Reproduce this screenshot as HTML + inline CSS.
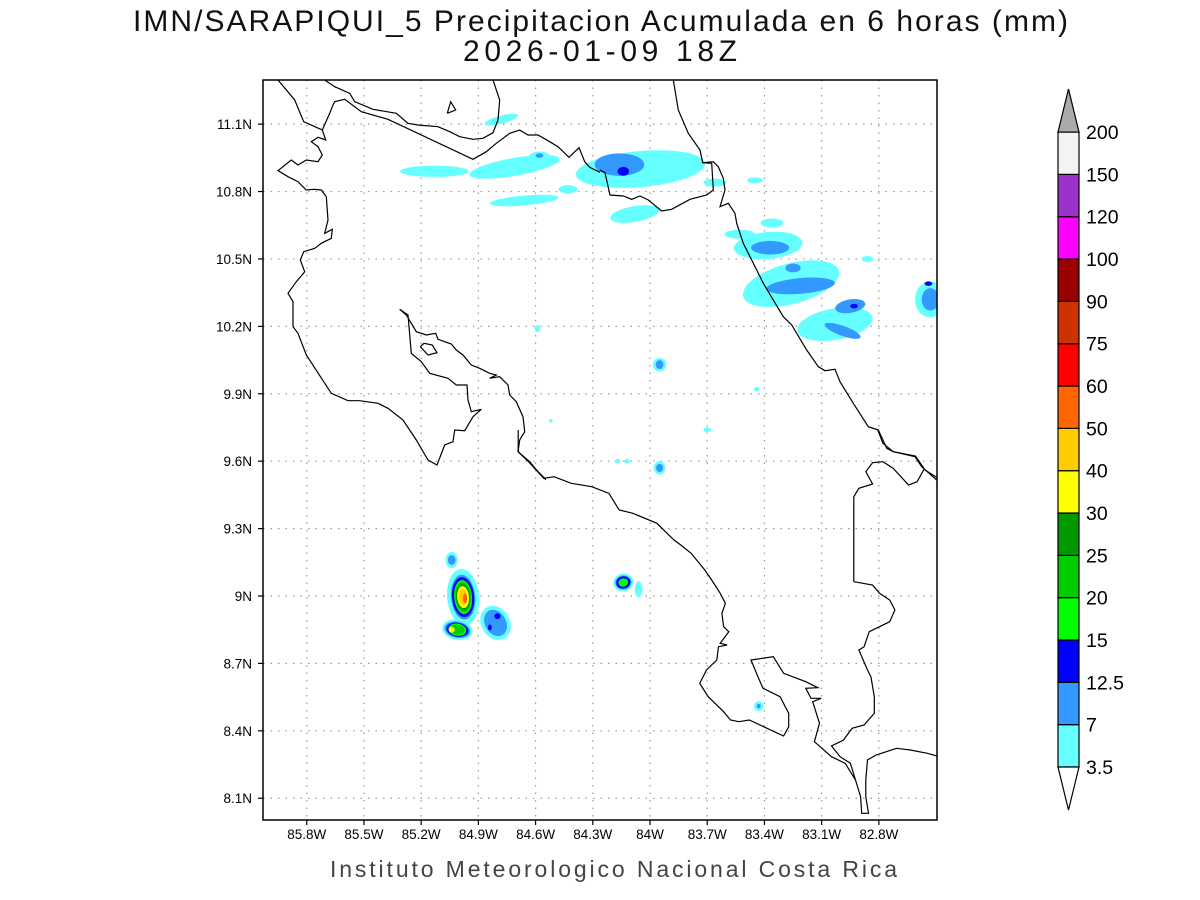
<!DOCTYPE html>
<html><head><meta charset="utf-8"><style>
html,body{margin:0;padding:0;background:#fff;}
svg{display:block;font-family:"Liberation Sans",sans-serif;}
</style></head><body>
<svg id="chart" width="1200" height="900" viewBox="0 0 1200 900" xmlns="http://www.w3.org/2000/svg">
<defs><clipPath id="mapclip"><rect x="263" y="80" width="674" height="740"/></clipPath></defs>
<rect width="1200" height="900" fill="#fff"/>
<text x="133" y="31" font-size="30" fill="#111" textLength="935" lengthAdjust="spacing">IMN/SARAPIQUI_5 Precipitacion Acumulada en 6 horas (mm)</text>
<text x="463" y="61" font-size="30" fill="#111" textLength="274" lengthAdjust="spacing">2026-01-09 18Z</text>
<g id="grid"></g>
<g id="blobs" clip-path="url(#mapclip)"></g>
<g id="coast" fill="none" stroke="#000" stroke-width="1.2" clip-path="url(#mapclip)"></g>
<rect x="263" y="80" width="674" height="740" fill="none" stroke="#000" stroke-width="1.5"/>
<g id="axes"></g>
<g id="cbar"></g>
<text x="330" y="877" font-size="23" fill="#444" textLength="567" lengthAdjust="spacing">Instituto Meteorologico Nacional Costa Rica</text>
</svg>
<script>
const lonTicks=[-85.8,-85.5,-85.2,-84.9,-84.6,-84.3,-84.0,-83.7,-83.4,-83.1,-82.8];
const lonLabels=["85.8W","85.5W","85.2W","84.9W","84.6W","84.3W","84W","83.7W","83.4W","83.1W","82.8W"];
const latTicks=[11.1,10.8,10.5,10.2,9.9,9.6,9.3,9.0,8.7,8.4,8.1];
const latLabels=["11.1N","10.8N","10.5N","10.2N","9.9N","9.6N","9.3N","9N","8.7N","8.4N","8.1N"];
const levelLabels=["3.5","7","12.5","15","20","25","30","40","50","60","75","90","100","120","150","200"];
const levelColors=["#66ffff","#3399ff","#0000ff","#00ff00","#00cc00","#009900","#ffff00","#ffcc00","#ff6600","#ff0000","#cc3300","#990000","#ff00ff","#9933cc","#f3f3f3"];
const blobLon=[-85.13,-84.71,-84.05,-84.16,-84.14,-84.66,-84.43,-84.08,-84.78,-84.58,-84.58,-83.66,-83.45,-83.36,-83.53,-83.38,-83.37,-83.26,-83.21,-83.25,-83.03,-82.95,-82.99,-82.93,-82.86,-82.53,-82.53,-82.54,-84.59,-83.95,-83.95,-83.44,-83.70,-84.17,-84.12,-83.95,-83.95,-84.52,-83.43,-83.43,
-85.04,-85.04,-84.98,-84.98,-84.98,-84.98,-84.98,-84.98,-84.98,-84.98,-84.97,-85.01,-85.01,-85.01,-85.01,-85.01,-85.04,-84.81,-84.81,-84.80,-84.84,-84.14,-84.14,-84.14,-84.14,-84.06];
const blobLat=[10.89,10.91,10.90,10.92,10.89,10.76,10.81,10.70,11.12,10.96,10.96,10.84,10.85,10.66,10.61,10.56,10.55,10.39,10.38,10.46,10.21,10.29,10.18,10.29,10.50,10.32,10.32,10.39,10.19,10.03,10.03,9.92,9.74,9.60,9.60,9.57,9.57,9.78,8.51,8.51,
9.16,9.16,8.995,8.995,8.995,8.995,8.995,8.995,8.995,8.995,8.99,8.85,8.85,8.85,8.85,8.85,8.85,8.88,8.88,8.91,8.86,9.06,9.06,9.06,9.06,9.03];
const blobRx=[0.18,0.24,0.34,0.13,0.03,0.18,0.05,0.13,0.09,0.05,0.02,0.06,0.04,0.06,0.08,0.18,0.10,0.26,0.18,0.04,0.20,0.08,0.10,0.02,0.03,0.08,0.045,0.02,0.015,0.035,0.02,0.015,0.02,0.015,0.015,0.03,0.018,0.01,0.025,0.01,
0.032,0.02,0.084,0.063,0.058,0.047,0.042,0.037,0.031,0.021,0.011,0.08,0.068,0.058,0.047,0.037,0.016,0.075,0.055,0.016,0.01,0.052,0.042,0.037,0.026,0.02];
const blobRy=[0.025,0.04,0.08,0.05,0.02,0.022,0.018,0.035,0.018,0.018,0.01,0.018,0.013,0.02,0.02,0.06,0.03,0.09,0.035,0.02,0.07,0.03,0.022,0.01,0.013,0.08,0.05,0.01,0.015,0.03,0.02,0.01,0.01,0.01,0.01,0.03,0.018,0.008,0.022,0.01,
0.036,0.022,0.125,0.10,0.089,0.076,0.067,0.058,0.049,0.036,0.022,0.045,0.036,0.031,0.027,0.022,0.013,0.08,0.062,0.013,0.013,0.04,0.031,0.027,0.018,0.036];
const blobLevel=[0,0,0,1,2,0,0,0,0,0,1,0,0,0,0,0,1,0,1,1,0,1,1,2,0,0,1,2,0,0,1,0,0,0,0,0,1,0,0,1,
0,1,0,1,2,3,4,5,6,7,8,0,1,2,3,4,6,0,1,2,2,0,1,2,3,0];
const blobRot=[0,-10,-5,0,0,-5,0,-10,-15,0,0,0,0,0,0,-5,0,-15,-5,0,-10,-10,20,0,0,0,0,0,0,0,0,0,0,0,0,0,0,0,0,0,
0,0,-5,-5,-5,-5,-5,-5,-5,-5,0,10,10,10,10,10,0,-30,-30,0,0,-10,-10,-10,-10,0];

const X0=263,X1=937,Y0=80,Y1=820;
function xScale(lon){return 650+(lon+84)*190.7;}
function yScale(lat){return 596-(lat-9)*224.7;}
const NS="http://www.w3.org/2000/svg";
function mk(tag,attrs,parent){const e=document.createElementNS(NS,tag);for(const k in attrs)e.setAttribute(k,attrs[k]);parent.appendChild(e);return e;}

const grid=document.getElementById('grid'),axes=document.getElementById('axes');
lonTicks.forEach((lon,i)=>{const x=xScale(lon);
 const g=mk('line',{x1:x,x2:x,y1:Y0,y2:Y1,stroke:'#999','stroke-width':1.2,'stroke-dasharray':'1.5,6'},grid);
 
 
 const t=mk('line',{x1:x,x2:x,y1:Y1,y2:Y1+5,stroke:'#000','stroke-width':1.2},axes);
 
 
 const l=mk('text',{x:x,y:Y1+19,'text-anchor':'middle','font-size':13.5,fill:'#000'},axes);
 l.textContent=lonLabels[i];
 
 
});
latTicks.forEach((lat,i)=>{const y=yScale(lat);
 const g=mk('line',{x1:X0,x2:X1,y1:y,y2:y,stroke:'#999','stroke-width':1.2,'stroke-dasharray':'1.5,6'},grid);
 
 
 const t=mk('line',{x1:X0-5,x2:X0,y1:y,y2:y,stroke:'#000','stroke-width':1.2},axes);
 
 
 const l=mk('text',{x:X0-11,y:y+5,'text-anchor':'end','font-size':13.5,fill:'#000'},axes);
 l.textContent=latLabels[i];
 
 
});

const blobs=document.getElementById('blobs');
for(let i=0;i<blobLon.length;i++){
 const cx=xScale(blobLon[i]),cy=yScale(blobLat[i]);
 const e=mk('ellipse',{cx:cx,cy:cy,rx:blobRx[i]*190.7,ry:blobRy[i]*224.7,fill:levelColors[blobLevel[i]],transform:`rotate(${blobRot[i]} ${cx} ${cy})`},blobs);
 
 
}

function tr(pts,ox,oy,sx){sx=sx||3;const a=[];for(let i=0;i<pts.length;i+=2)a.push((ox+pts[i]/sx).toFixed(1)+','+(oy+pts[i+1]/3).toFixed(1));return a.join(' ');}
const coast=document.getElementById('coast');
const SX3=1568/537;
const lines=[
 [[45,0,95,60,122,125,178,150,188,180,165,172,145,185,165,200,178,225,165,245,130,240,105,255,85,240,45,272,75,290,105,305,130,330,152,328,175,330,190,350,195,420,185,460,208,448,205,475,175,490,155,505,122,515,112,540,125,575,100,605,75,640,90,665,90,740,105,760,130,825,205,940,255,962,290,962,345,970,375,985,420,1020,460,1080,495,1140,522,1155,545,1095,570,1085,575,1050,605,1052,630,1010,655,988,625,995,615,960,612,915,580,915,555,895,500,880,475,845,445,820,435,705,410,688,430,705,460,755,490,765,518,760,525,778,545,785,565,792,580,810,600,825,625,855,650,865,680,880,700,885,680,895,710,890,735,915,740,945,760,965,780,1010,785,1055,770,1080,765,1115,800,1145,825,1175,845,1195,848,1200],263,80,3],
 [[345,0,345,65,380,100,420,145,450,140,500,160,560,170,610,190,640,240,680,250,750,280,800,330,820,345,850,370,890,420,910,450,935,490,950,520,940,550,945,590,960,605,935,640,955,645,930,650,925,690,895,720,875,760,900,800,945,845,965,870,990,875,1020,870,1120,918,1135,890,1135,850,1110,800,1060,775,1045,740,1025,690,1090,680,1120,730,1185,755,1220,773,1185,775,1200,805,1230,805,1205,815,1225,880,1210,935,1260,980,1300,1000,1330,1050,1345,1100,1348,1150,1368,1150,1360,1100,1360,1050,1365,990,1390,975,1450,955,1490,960,1540,970,1610,990],400,430,SX3],
 [[1325,455,1325,200,1340,175,1380,162,1360,125,1380,98,1410,95,1440,115,1485,165,1510,155,1530,118,1610,170],400,430,SX3],
 [[1395,0,1410,40,1440,65,1505,78,1530,115],400,430,SX3],
 [[1325,455,1380,465,1400,490,1430,510,1445,540,1430,575,1370,605,1355,650,1340,660,1365,720,1375,740,1385,800,1385,850,1355,885,1320,895,1295,930,1260,948,1285,980,1315,1000,1330,1050],400,430,SX3],
 [[220,0,235,90,265,160,300,210,308,248,340,245,355,260,370,295,375,330,360,380,385,370,405,400,410,430,430,490,470,570,490,610,550,710,575,735,620,810,655,860,675,872,705,868,720,905,760,970,805,1040,835,1050,860,1105,880,1115,945,1130,965,1160,1010,1200],600,80,3],
 [[185,0,215,20,260,40,275,65,330,88,400,100,435,130,465,135,525,140,560,155,590,170,630,178,660,175,690,158,705,120,710,60,690,0],263,80,3],
 [[178,150,200,100,210,75,215,65,245,58,295,95,375,118,630,238,670,215,700,190,740,160,770,150,795,165,825,165,860,185,885,200,918,232,948,203,965,245,980,262,1011,277],263,80,3],
 [[0,270,15,278,30,345,70,348,95,358,120,348,145,360,185,393,215,388,270,358,320,345,340,330,335,250,310,248],600,80,3],
 [[553,100,563,65,578,90,553,100],263,80,3],
 [[472,800,483,790,508,795,522,818,495,825,472,800],263,80,3]
];
lines.forEach(l=>{const p=mk('polyline',{points:tr(l[0],l[1],l[2],l[3])},coast);
 
 });

const cb=document.getElementById('cbar');
const cbX=1058,cbW=21,cbBottom=767,step=42.33;
levelColors.forEach((c,i)=>{const r=mk('rect',{x:cbX,y:cbBottom-(i+1)*step,width:cbW,height:step,fill:c,stroke:'#000','stroke-width':1.2},cb);
 
 });
const topY=cbBottom-15*step;
const tt=mk('polygon',{points:`${cbX},${topY} ${cbX+cbW},${topY} ${cbX+cbW/2},${topY-43}`,fill:'#aaaaaa',stroke:'#000','stroke-width':1.2},cb);


const bt=mk('polygon',{points:`${cbX},${cbBottom} ${cbX+cbW},${cbBottom} ${cbX+cbW/2},${cbBottom+43}`,fill:'#fff',stroke:'#000','stroke-width':1.2},cb);


levelLabels.forEach((s,i)=>{const t=mk('text',{x:1086,y:cbBottom-i*step+7,'font-size':19.5,fill:'#000'},cb);
 t.textContent=s;
 
 });
</script>
</body></html>
